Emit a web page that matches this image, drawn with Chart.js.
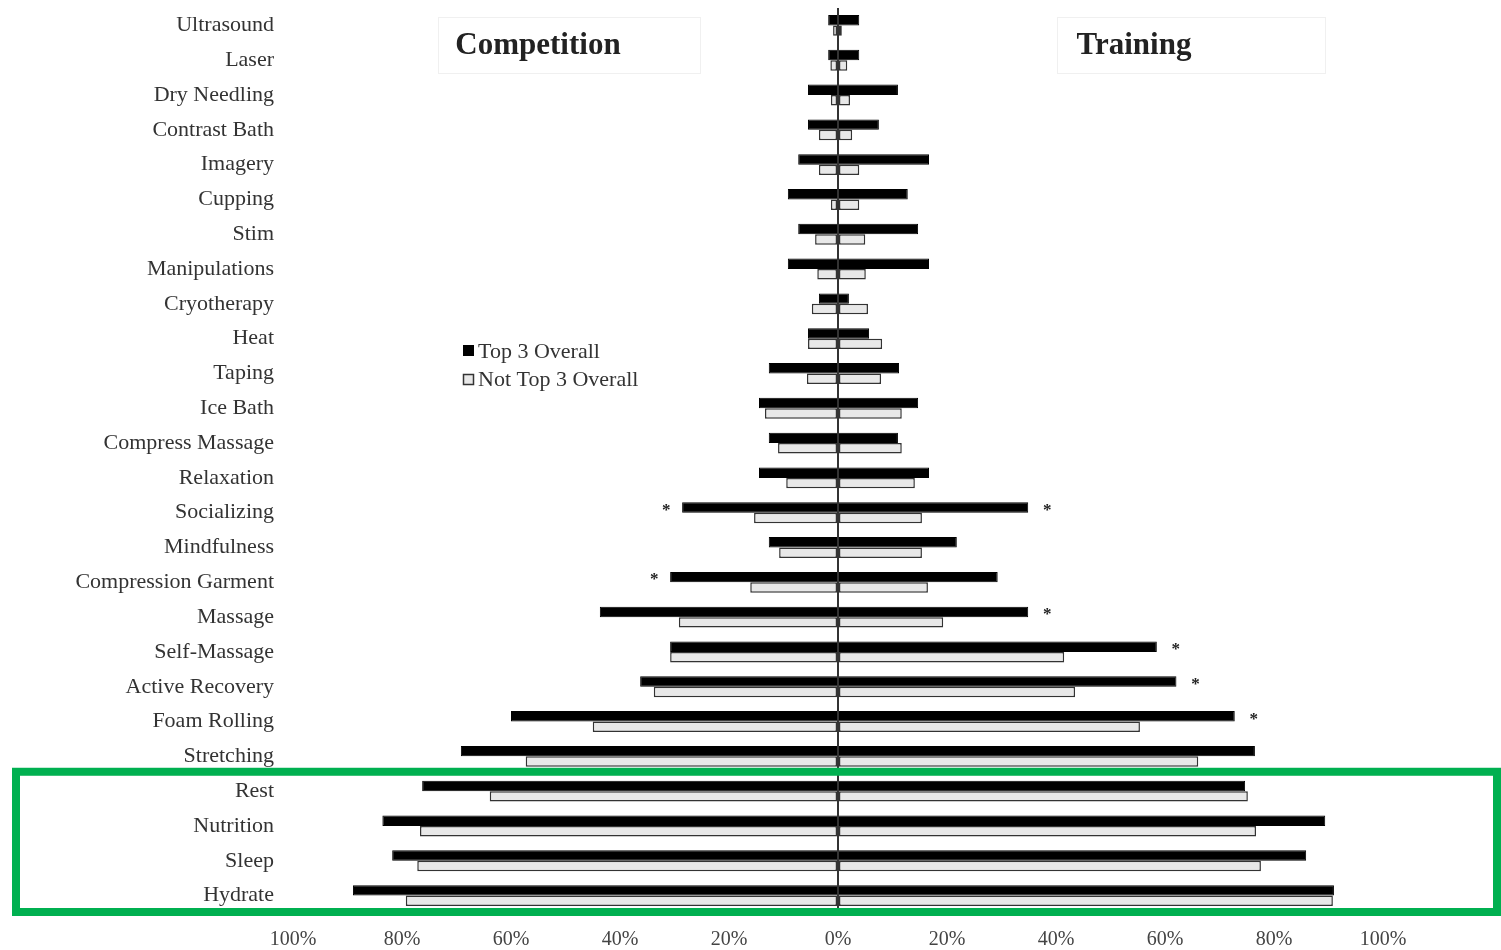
<!DOCTYPE html>
<html>
<head>
<meta charset="utf-8">
<script src="https://cdn.jsdelivr.net/npm/chart.js@4.4.1/dist/chart.umd.min.js"></script>
<style>
  body { margin: 0; background: #fff; }
  #wrap { width: 1501px; height: 950px; }
</style>
</head>
<body>
<div id="wrap"><canvas id="chart" width="1501" height="950"></canvas></div>
<script>
const categories = ['Ultrasound', 'Laser', 'Dry Needling', 'Contrast Bath', 'Imagery', 'Cupping', 'Stim',
  'Manipulations', 'Cryotherapy', 'Heat', 'Taping', 'Ice Bath', 'Compress Massage', 'Relaxation',
  'Socializing', 'Mindfulness', 'Compression Garment', 'Massage', 'Self-Massage', 'Active Recovery',
  'Foam Rolling', 'Stretching', 'Rest', 'Nutrition', 'Sleep', 'Hydrate'];

// percentages
const top3Competition = [1.8, 1.8, 5.5, 5.5, 7.3, 9.2, 7.3, 9.2, 3.5, 5.5, 12.7, 14.5, 12.7, 14.5,
  28.6, 12.7, 30.8, 43.7, 30.8, 36.3, 60.0, 69.2, 76.3, 83.6, 81.8, 89.0];
const top3Training = [3.9, 3.9, 11.0, 7.5, 16.7, 12.8, 14.7, 16.7, 2.0, 5.7, 11.2, 14.7, 11.0, 16.7,
  34.9, 21.8, 29.3, 34.9, 58.5, 62.1, 72.8, 76.5, 74.7, 89.4, 85.9, 91.0];
const notTop3Competition = [0.9, 1.4, 1.3, 3.5, 3.5, 1.3, 4.2, 3.8, 4.8, 5.5, 5.7, 13.4, 11.0, 9.5,
  15.4, 10.8, 16.1, 29.2, 30.8, 33.8, 45.0, 57.3, 63.9, 76.7, 77.2, 79.3];
const notTop3Training = [0.7, 1.7, 2.2, 2.6, 3.9, 3.9, 5.0, 5.1, 5.5, 8.1, 7.9, 11.7, 11.7, 14.1,
  15.4, 15.4, 16.5, 19.3, 41.5, 43.5, 55.4, 66.1, 75.2, 76.7, 77.6, 90.8];

const xTicks = [-100, -80, -60, -40, -20, 0, 20, 40, 60, 80, 100];
const sigCompetition = ['Socializing', 'Compression Garment'];
const sigTraining = ['Socializing', 'Massage', 'Self-Massage', 'Active Recovery', 'Foam Rolling'];
const highlighted = ['Rest', 'Nutrition', 'Sleep', 'Hydrate'];

const serif = '"Liberation Serif", "DejaVu Serif", serif';

const extras = {
  id: 'extras',
  afterDatasetsDraw(chart) {
    const ctx = chart.ctx;
    ctx.save();
    ctx.fillStyle = '#222';
    ctx.font = 'bold 17px ' + serif;
    ctx.textAlign = 'center';
    ctx.textBaseline = 'middle';
    const compMeta = chart.getDatasetMeta(0);
    const trainMeta = chart.getDatasetMeta(1);
    sigCompetition.forEach(name => {
      const bar = compMeta.data[categories.indexOf(name)];
      ctx.fillText('*', bar.x - 16, bar.y + 3);
    });
    sigTraining.forEach(name => {
      const bar = trainMeta.data[categories.indexOf(name)];
      ctx.fillText('*', bar.x + 19, bar.y + 3);
    });
    ctx.restore();
  },
  afterDraw(chart) {
    const ctx = chart.ctx;
    const y = chart.scales.y;
    ctx.save();

    // panel titles
    ctx.strokeStyle = '#f0f0f0';
    ctx.lineWidth = 1;
    ctx.strokeRect(438.5, 17.5, 262, 56);
    ctx.strokeRect(1057.5, 17.5, 268, 56);
    ctx.fillStyle = '#222';
    ctx.font = 'bold 31px ' + serif;
    ctx.textAlign = 'center';
    ctx.textBaseline = 'middle';
    ctx.fillText('Competition', 538, 46);
    ctx.fillText('Training', 1134, 46);

    // legend
    ctx.font = '22px ' + serif;
    ctx.textAlign = 'left';
    ctx.fillStyle = '#000';
    ctx.fillRect(463, 345, 11, 11);
    ctx.fillStyle = '#e8e8e8';
    ctx.fillRect(463, 374, 11, 11);
    ctx.strokeStyle = '#333';
    ctx.lineWidth = 1.5;
    ctx.strokeRect(463.5, 374.5, 10, 10);
    ctx.fillStyle = '#333';
    ctx.fillText('Top 3 Overall', 478, 352);
    ctx.fillText('Not Top 3 Overall', 478, 380);

    // green highlight box
    const rowH = y.getPixelForValue(1) - y.getPixelForValue(0);
    const first = categories.indexOf(highlighted[0]);
    const last = categories.indexOf(highlighted[highlighted.length - 1]);
    const top = y.getPixelForValue(first) - rowH / 2 - 2;
    const bottom = y.getPixelForValue(last) + rowH / 2 - 1;
    ctx.strokeStyle = '#00b050';
    ctx.lineWidth = 8;
    ctx.strokeRect(16, top, 1481, bottom - top);
    ctx.restore();
  }
};

new Chart(document.getElementById('chart'), {
  type: 'bar',
  data: {
    labels: categories,
    datasets: [
      {
        label: 'Top 3 Overall', stack: 'top3',
        data: top3Competition.map(v => -v),
        backgroundColor: '#000', borderColor: '#000', borderWidth: 1
      },
      {
        label: 'Top 3 Overall', stack: 'top3',
        data: top3Training,
        backgroundColor: '#000', borderColor: '#000', borderWidth: 1
      },
      {
        label: 'Not Top 3 Overall', stack: 'notTop3',
        data: notTop3Competition.map(v => -v),
        backgroundColor: '#e8e8e8', borderColor: '#333', borderWidth: 1.5, borderSkipped: false
      },
      {
        label: 'Not Top 3 Overall', stack: 'notTop3',
        data: notTop3Training,
        backgroundColor: '#e8e8e8', borderColor: '#333', borderWidth: 1.5, borderSkipped: false
      }
    ]
  },
  options: {
    responsive: false,
    animation: false,
    indexAxis: 'y',
    categoryPercentage: 0.6,
    barPercentage: 1.0,
    layout: { padding: { top: 8, right: 118, bottom: 0, left: 0 } },
    plugins: {
      legend: { display: false },
      tooltip: { enabled: false }
    },
    scales: {
      x: {
        stacked: true,
        min: -100,
        max: 100,
        afterBuildTicks: scale => { scale.ticks = xTicks.map(v => ({ value: v })); },
        afterFit: scale => { scale.height = 37; },
        ticks: {
          callback: v => Math.abs(v) + '%',
          color: '#444',
          font: { family: serif, size: 20 },
          padding: 15,
          maxRotation: 0
        },
        grid: {
          drawTicks: false,
          color: c => (c.tick && c.tick.value === 0 ? '#333' : 'rgba(0,0,0,0)'),
          lineWidth: 2
        },
        border: { display: false }
      },
      y: {
        afterFit: scale => {
          scale.width = 293;
          scale.paddingTop = 0;
          scale.paddingBottom = 0;
        },
        ticks: {
          color: '#333',
          font: { family: serif, size: 22 },
          padding: 19,
          autoSkip: false
        },
        grid: { display: false, drawTicks: false },
        border: { display: false }
      }
    }
  },
  plugins: [extras]
});
</script>
</body>
</html>
